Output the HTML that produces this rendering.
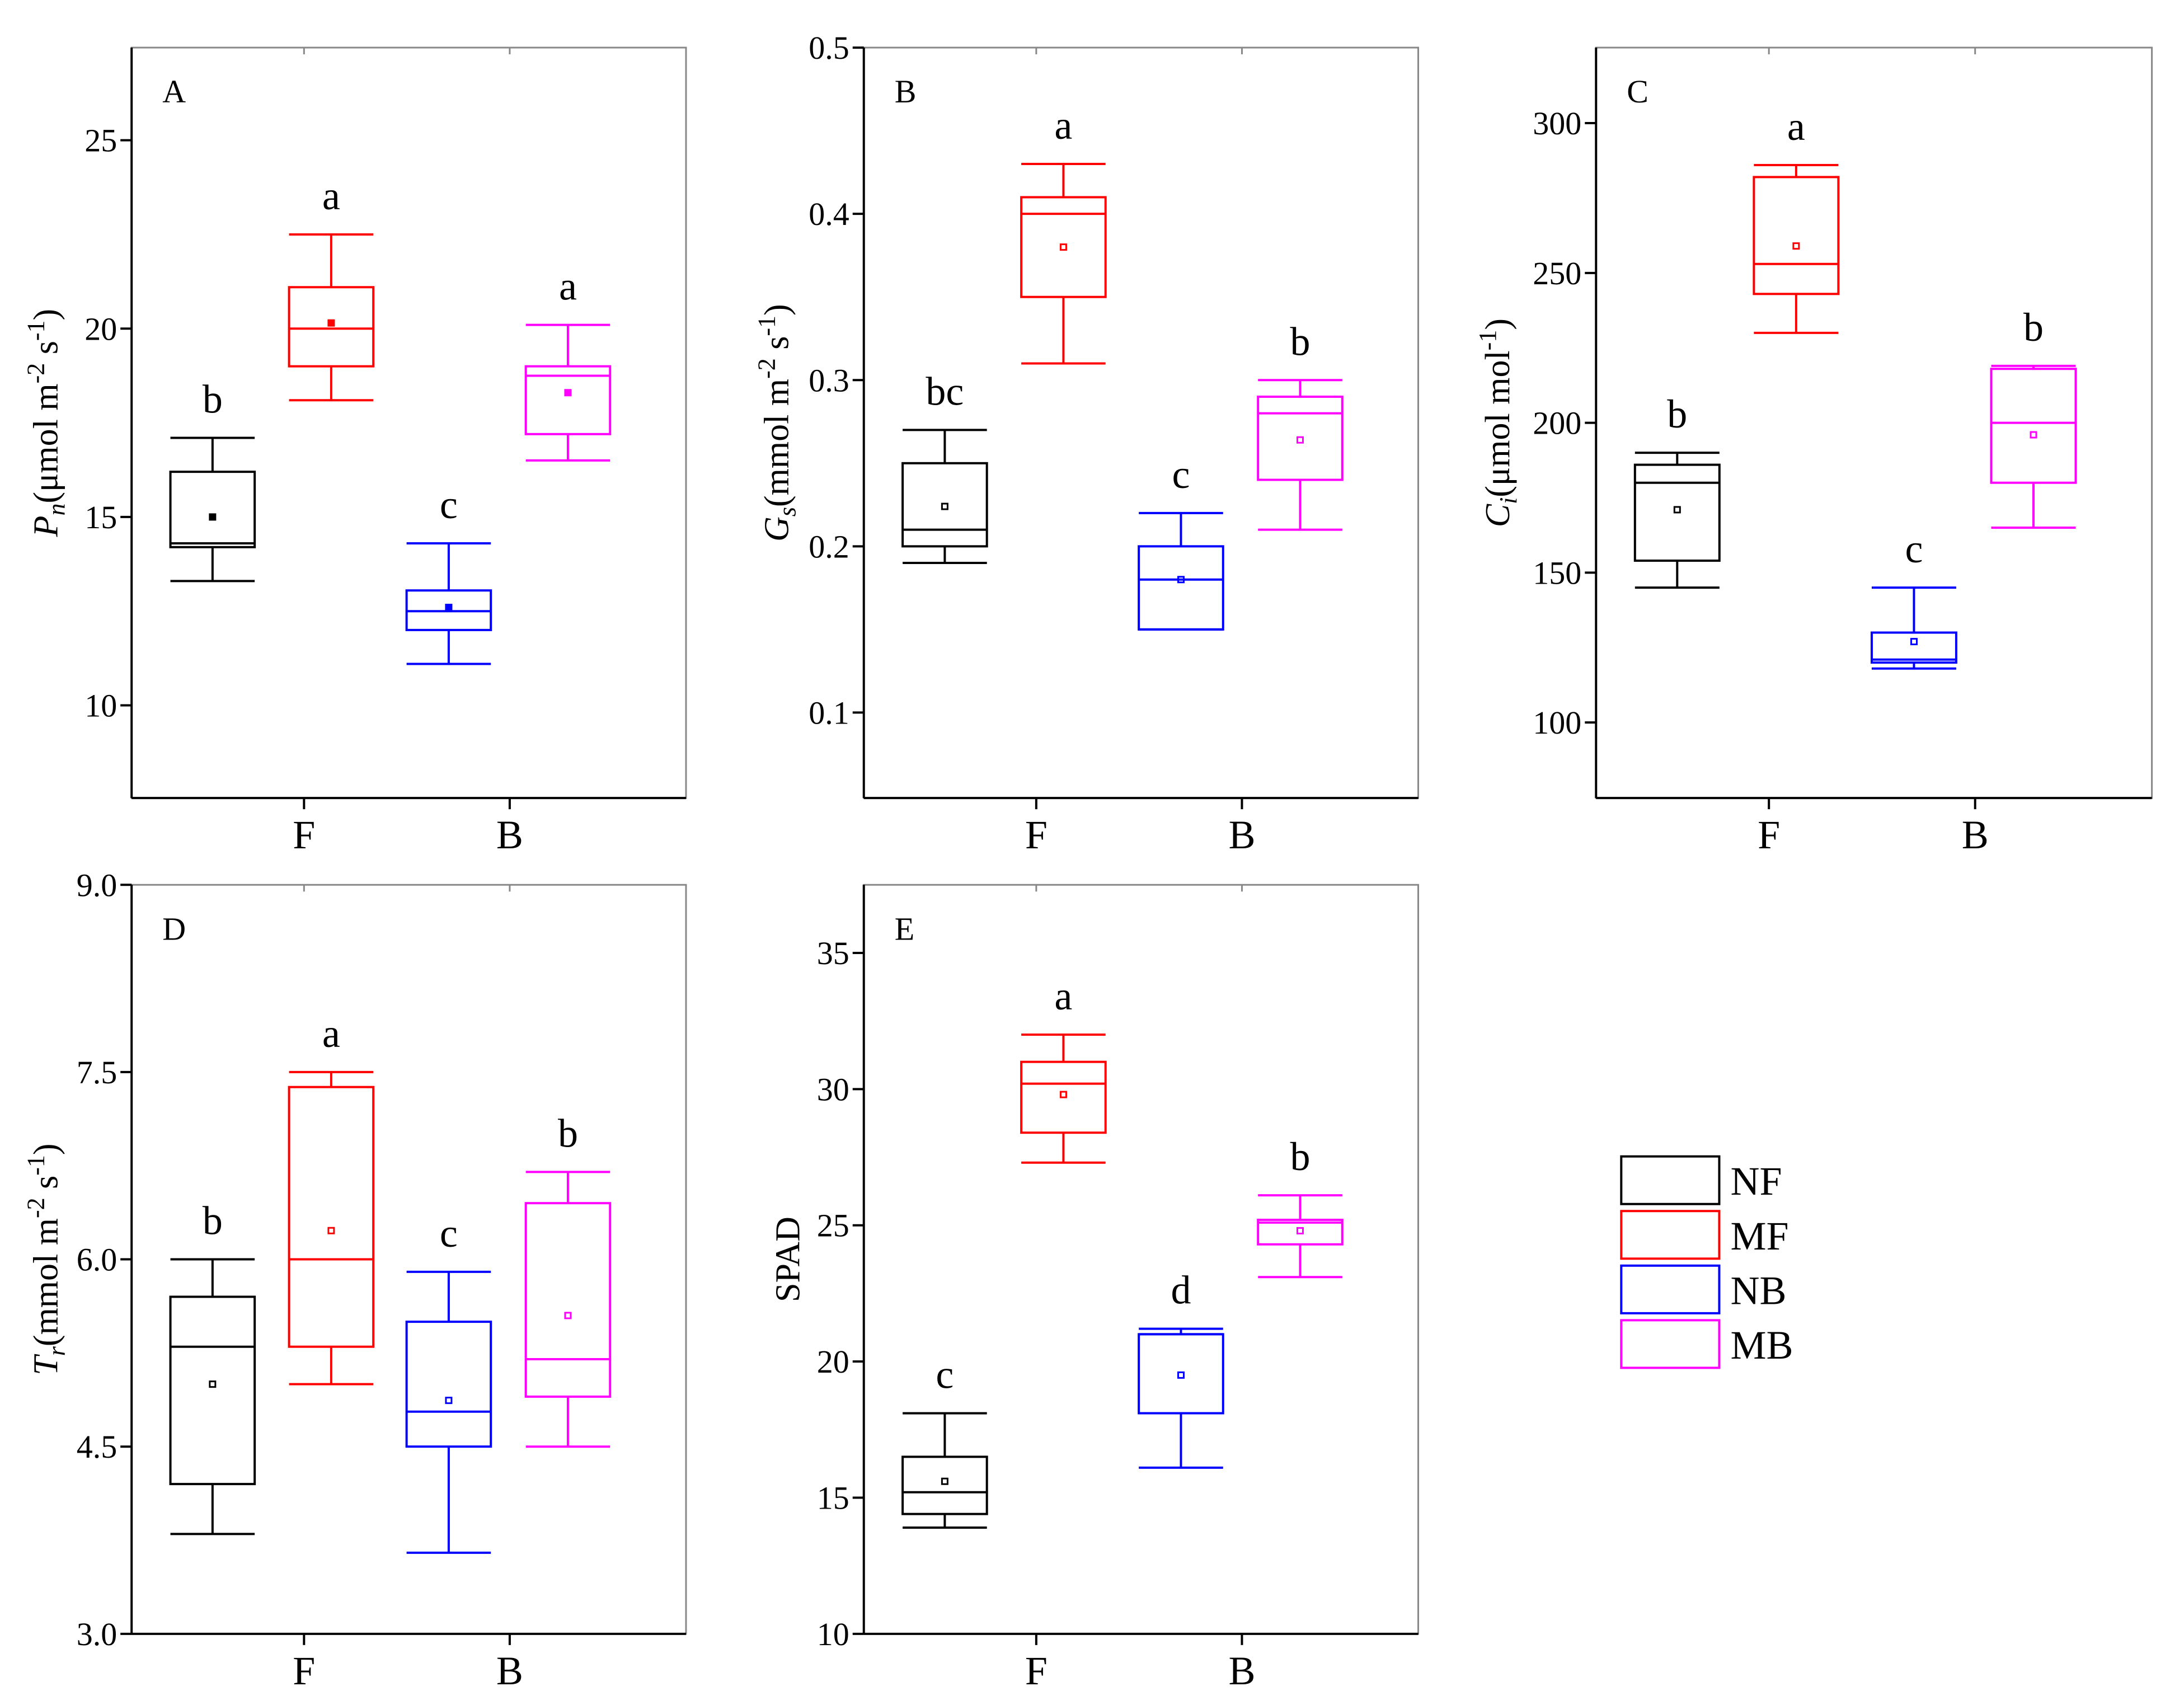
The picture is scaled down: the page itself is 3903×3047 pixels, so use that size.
<!DOCTYPE html>
<html><head><meta charset="utf-8"><style>
html,body{margin:0;padding:0;background:#fff;}
svg{display:block;font-family:"Liberation Serif",serif;}
</style></head><body>
<svg id="chart" width="3903" height="3047" viewBox="0 0 3903 3047" xmlns="http://www.w3.org/2000/svg"></svg>
<script>
const S=2.502;
const groups=["NF","MF","NB","MB"];
const colors=["#000000","#ff0000","#0000ff","#ff00ff"];
const groupPos=[0.146,0.360,0.572,0.787];
const xCats=["F","B"];
const xCatPos=[0.311,0.682];
// per panel data: [whiskLo, q1, median, q3, whiskHi, mean]
const dataA=[[13.3,14.2,14.3,16.2,17.1,15.0],[18.1,19.0,20.0,21.1,22.5,20.15],[11.1,12.0,12.5,13.05,14.3,12.6],[16.5,17.2,18.75,19.0,20.1,18.3]];
const lettersA=["b","a","c","a"];
const dataB=[[0.19,0.20,0.21,0.25,0.27,0.224],[0.31,0.35,0.40,0.41,0.43,0.38],[0.15,0.15,0.18,0.20,0.22,0.18],[0.21,0.24,0.28,0.29,0.30,0.264]];
const lettersB=["bc","a","c","b"];
const dataC=[[145,154,180,186,190,171],[230,243,253,282,286,259],[118,120,121,130,145,127],[165,180,200,218,219,196]];
const lettersC=["b","a","c","b"];
const dataD=[[3.8,4.2,5.3,5.7,6.0,5.0],[5.0,5.3,6.0,7.38,7.5,6.23],[3.65,4.5,4.78,5.5,5.9,4.87],[4.5,4.9,5.2,6.45,6.7,5.55]];
const lettersD=["b","a","c","b"];
const dataE=[[13.9,14.4,15.2,16.5,18.1,15.6],[27.3,28.4,30.2,31.0,32.0,29.8],[16.1,18.1,21.0,21.0,21.2,19.5],[23.1,24.3,25.1,25.2,26.1,24.8]];
const lettersE=["c","a","d","b"];
const ticksA=[10,15,20,25], ticksB=[0.1,0.2,0.3,0.4,0.5], ticksC=[100,150,200,250,300], ticksD=[3.0,4.5,6.0,7.5,9.0], ticksE=[10,15,20,25,30,35];
const tickLabD=["3.0","4.5","6.0","7.5","9.0"];

const panels=[
 {id:"a",label:"A",x0:94,x1:490,y0:34,y1:570,ymin:7.54,ymax:27.46,data:dataA,letters:lettersA,ticks:ticksA,filled:true,titleX:33,title:[["P",0,"italic"],["n",1,"italic"],["(μmol m",0],["-2",-1],[" s",0],["-1",-1],[")",0]]},
 {id:"b",label:"B",x0:617,x1:1013,y0:34,y1:570,ymin:0.0486,ymax:0.5,data:dataB,letters:lettersB,ticks:ticksB,filled:false,titleX:555,title:[["G",0,"italic"],["s",1,"italic"],["(mmol m",0],["-2",-1],[" s",0],["-1",-1],[")",0]]},
 {id:"c",label:"C",x0:1140,x1:1537,y0:34,y1:570,ymin:74.8,ymax:325.2,data:dataC,letters:lettersC,ticks:ticksC,filled:false,titleX:1070,title:[["C",0,"italic"],["i",1,"italic"],["(μmol mol",0],["-1",-1],[")",0]]},
 {id:"d",label:"D",x0:94,x1:490,y0:632,y1:1167,ymin:3,ymax:9,data:dataD,letters:lettersD,ticks:ticksD,tickLab:tickLabD,filled:false,titleX:33,title:[["T",0,"italic"],["r",1,"italic"],["(mmol m",0],["-2",-1],[" s",0],["-1",-1],[")",0]]},
 {id:"e",label:"E",x0:617,x1:1013,y0:632,y1:1167,ymin:10,ymax:37.5,data:dataE,letters:lettersE,ticks:ticksE,filled:false,titleX:563,title:[["SPAD",0]]}
];
const svg=document.getElementById('chart');
const NS="http://www.w3.org/2000/svg";
function mk(tag,attrs,parent){const e=document.createElementNS(NS,tag);for(const k in attrs)e.setAttribute(k,attrs[k]);(parent||svg).appendChild(e);return e;}

panels.forEach(p=>{
 const g=mk('g',{});
 
 
 const X0=p.x0*S,X1=p.x1*S,Y0=p.y0*S,Y1=p.y1*S;
 const yS=v=>Y1-(v-p.ymin)/(p.ymax-p.ymin)*(Y1-Y0);
 const xS=f=>X0+f*(X1-X0);
 const fr=mk('rect',{x:X0,y:Y0,width:X1-X0,height:Y1-Y0,fill:'none',stroke:'#888',"stroke-width":3},g);
 
 
 const ya=mk('line',{x1:X0,y1:Y0,x2:X0,y2:Y1,stroke:'#000',"stroke-width":4},g);
 
 
 const xa=mk('line',{x1:X0,y1:Y1,x2:X1,y2:Y1,stroke:'#000',"stroke-width":4},g);
 
 
 p.ticks.forEach((t,i)=>{
  const y=yS(t);
  mk('line',{x1:X0-20,y1:y,x2:X0,y2:y,stroke:'#000',"stroke-width":4},g);
  const tl=mk('text',{x:X0-26,y:y+20,"font-size":58,"text-anchor":"end"},g);
  tl.textContent=p.tickLab?p.tickLab[i]:String(t);
  
  
 });
 xCats.forEach((c,i)=>{
  const x=xS(xCatPos[i]);
  mk('line',{x1:x,y1:Y1,x2:x,y2:Y1+20,stroke:'#000',"stroke-width":4},g);
  mk('line',{x1:x,y1:Y0,x2:x,y2:Y0+12,stroke:'#888',"stroke-width":3},g);
  const tl=mk('text',{x:x,y:Y1+90,"font-size":72,"text-anchor":"middle"},g);
  tl.textContent=c;
  
  
 });
 const pl=mk('text',{x:X0+55,y:Y0+98,"font-size":58},g);
 pl.textContent=p.label;
 
 
 const cy=(Y0+Y1)/2, tx=p.titleX*S;
 const tt=mk('text',{x:0,y:0,"font-size":62,"text-anchor":"middle",transform:`translate(${tx+20},${cy}) rotate(-90)`},g);
 
 
 let prev=0;
 p.title.forEach(([s,sh,st])=>{
  const ts=mk('tspan',{},tt);
  if(st)ts.setAttribute('font-style',st);
  if(sh!==0)ts.setAttribute('font-size',44);
  const target=sh===1?13:sh===-1?-24:0;
  ts.setAttribute('dy',target-prev);prev=target;
  ts.textContent=s;
 });
 const bw=(X1-X0)*0.152, cw=(X1-X0)*0.152;
 p.data.forEach((d,i)=>{
  const c=colors[i], cx=xS(groupPos[i]);
  const bg=mk('g',{stroke:c,"stroke-width":4,fill:'none'},g);
  
  
  mk('line',{x1:cx,y1:yS(d[0]),x2:cx,y2:yS(d[1])},bg);
  mk('line',{x1:cx,y1:yS(d[3]),x2:cx,y2:yS(d[4])},bg);
  mk('line',{x1:cx-cw/2,y1:yS(d[0]),x2:cx+cw/2,y2:yS(d[0])},bg);
  mk('line',{x1:cx-cw/2,y1:yS(d[4]),x2:cx+cw/2,y2:yS(d[4])},bg);
  mk('rect',{x:cx-bw/2,y:yS(d[3]),width:bw,height:yS(d[1])-yS(d[3])},bg);
  mk('line',{x1:cx-bw/2,y1:yS(d[2]),x2:cx+bw/2,y2:yS(d[2])},bg);
  const m=mk('rect',{x:cx-5,y:yS(d[5])-5,width:10,height:10,"stroke-width":3,fill:p.filled?c:'none'},bg);
  
  
  const lt=mk('text',{x:cx,y:yS(d[4])-45,"font-size":72,"text-anchor":"middle",fill:'#000'},g);
  lt.textContent=p.letters[i];
  
  
 });
});
const lg=mk('g',{});


groups.forEach((n,i)=>{
 const y=826*S+i*39*S;
 const e=mk('g',{},lg);
 
 
 mk('rect',{x:1158*S,y:y,width:70*S,height:34*S,fill:'none',stroke:colors[i],"stroke-width":4},e);
 const t=mk('text',{x:1236*S,y:y+34*S/2+26,"font-size":72},e);
 t.textContent=n;
});
</script>
</body></html>
